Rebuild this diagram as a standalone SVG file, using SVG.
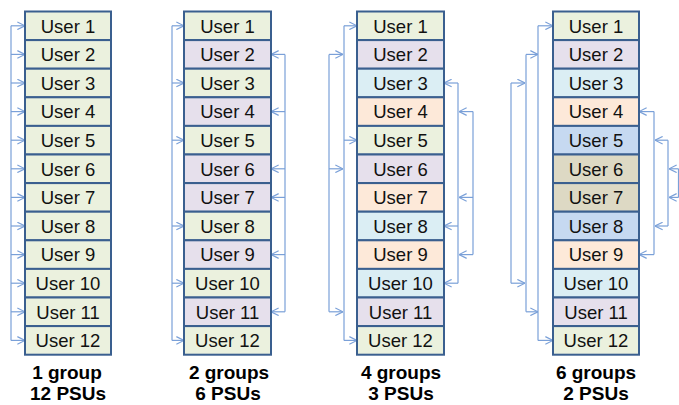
<svg xmlns="http://www.w3.org/2000/svg" width="679" height="405" viewBox="0 0 679 405">
<defs>
<marker id="ah" viewBox="0 0 10 10" refX="9.5" refY="5" markerWidth="9" markerHeight="9" markerUnits="userSpaceOnUse" orient="auto">
<path d="M1,0.8 L9.5,5 L1,9.2" fill="none" stroke="#7aa0d8" stroke-width="1.3"/>
</marker>
</defs>
<style>
rect{stroke:#3a5f8f;stroke-width:2}
.g{fill:#ebf1de}.p{fill:#e6e0ec}.b{fill:#dbeef4}.o{fill:#fde9d9}.m{fill:#c6d9f1}.k{fill:#ddd9c4}
text{font-family:"Liberation Sans",Arial,sans-serif;text-anchor:middle}
.u{font-size:18.5px;fill:#111}
.lb{font-size:19px;font-weight:bold;fill:#000}
#connectors line{stroke:#7aa0d8;stroke-width:1.2;fill:none}
#connectors .a{marker-end:url(#ah)}
</style>
<rect x="0" y="0" width="679" height="405" fill="#fff" style="stroke:none"/>
<g id="connectors">
<line x1="11" y1="25.8" x2="11" y2="340.4"/>
<line class="a" x1="11" y1="25.8" x2="25" y2="25.8"/>
<line class="a" x1="11" y1="54.4" x2="25" y2="54.4"/>
<line class="a" x1="11" y1="83" x2="25" y2="83"/>
<line class="a" x1="11" y1="111.6" x2="25" y2="111.6"/>
<line class="a" x1="11" y1="140.2" x2="25" y2="140.2"/>
<line class="a" x1="11" y1="168.8" x2="25" y2="168.8"/>
<line class="a" x1="11" y1="197.4" x2="25" y2="197.4"/>
<line class="a" x1="11" y1="226" x2="25" y2="226"/>
<line class="a" x1="11" y1="254.6" x2="25" y2="254.6"/>
<line class="a" x1="11" y1="283.2" x2="25" y2="283.2"/>
<line class="a" x1="11" y1="311.8" x2="25" y2="311.8"/>
<line class="a" x1="11" y1="340.4" x2="25" y2="340.4"/>
<line x1="172" y1="25.8" x2="172" y2="340.4"/>
<line class="a" x1="172" y1="25.8" x2="184" y2="25.8"/>
<line class="a" x1="172" y1="83" x2="184" y2="83"/>
<line class="a" x1="172" y1="140.2" x2="184" y2="140.2"/>
<line class="a" x1="172" y1="226" x2="184" y2="226"/>
<line class="a" x1="172" y1="283.2" x2="184" y2="283.2"/>
<line class="a" x1="172" y1="340.4" x2="184" y2="340.4"/>
<line x1="285" y1="54.4" x2="285" y2="311.8"/>
<line class="a" x1="285" y1="54.4" x2="271" y2="54.4"/>
<line class="a" x1="285" y1="111.6" x2="271" y2="111.6"/>
<line class="a" x1="285" y1="168.8" x2="271" y2="168.8"/>
<line class="a" x1="285" y1="197.4" x2="271" y2="197.4"/>
<line class="a" x1="285" y1="254.6" x2="271" y2="254.6"/>
<line class="a" x1="285" y1="311.8" x2="271" y2="311.8"/>
<line x1="344" y1="25.8" x2="344" y2="340.4"/>
<line class="a" x1="344" y1="25.8" x2="357" y2="25.8"/>
<line class="a" x1="344" y1="140.2" x2="357" y2="140.2"/>
<line class="a" x1="344" y1="340.4" x2="357" y2="340.4"/>
<line x1="329" y1="54.4" x2="329" y2="311.8"/>
<line class="a" x1="329" y1="54.4" x2="343" y2="54.4"/>
<line class="a" x1="329" y1="168.8" x2="343" y2="168.8"/>
<line class="a" x1="329" y1="311.8" x2="343" y2="311.8"/>
<line x1="458" y1="83" x2="458" y2="283.2"/>
<line class="a" x1="458" y1="83" x2="444" y2="83"/>
<line class="a" x1="458" y1="226" x2="444" y2="226"/>
<line class="a" x1="458" y1="283.2" x2="444" y2="283.2"/>
<line x1="473" y1="111.6" x2="473" y2="254.6"/>
<line class="a" x1="473" y1="111.6" x2="459" y2="111.6"/>
<line class="a" x1="473" y1="197.4" x2="459" y2="197.4"/>
<line class="a" x1="473" y1="254.6" x2="459" y2="254.6"/>
<line x1="538" y1="25.8" x2="538" y2="340.4"/>
<line class="a" x1="538" y1="25.8" x2="553" y2="25.8"/>
<line class="a" x1="538" y1="340.4" x2="553" y2="340.4"/>
<line x1="526" y1="54.4" x2="526" y2="311.8"/>
<line class="a" x1="526" y1="54.4" x2="538" y2="54.4"/>
<line class="a" x1="526" y1="311.8" x2="538" y2="311.8"/>
<line x1="511" y1="83" x2="511" y2="283.2"/>
<line class="a" x1="511" y1="83" x2="525" y2="83"/>
<line class="a" x1="511" y1="283.2" x2="525" y2="283.2"/>
<line x1="654" y1="111.6" x2="654" y2="254.6"/>
<line class="a" x1="654" y1="111.6" x2="639" y2="111.6"/>
<line class="a" x1="654" y1="254.6" x2="639" y2="254.6"/>
<line x1="668" y1="140.2" x2="668" y2="226"/>
<line class="a" x1="668" y1="140.2" x2="655" y2="140.2"/>
<line class="a" x1="668" y1="226" x2="655" y2="226"/>
<line x1="678.5" y1="168.8" x2="678.5" y2="197.4"/>
<line class="a" x1="678.5" y1="168.8" x2="669" y2="168.8"/>
<line class="a" x1="678.5" y1="197.4" x2="669" y2="197.4"/>
</g>
<g id="c1-u1"><rect class="g" x="25" y="11.5" width="86" height="28.6"/><text class="u" x="68" y="32.5">User 1</text></g>
<g id="c1-u2"><rect class="g" x="25" y="40.1" width="86" height="28.6"/><text class="u" x="68" y="61.1">User 2</text></g>
<g id="c1-u3"><rect class="g" x="25" y="68.7" width="86" height="28.6"/><text class="u" x="68" y="89.7">User 3</text></g>
<g id="c1-u4"><rect class="g" x="25" y="97.3" width="86" height="28.6"/><text class="u" x="68" y="118.3">User 4</text></g>
<g id="c1-u5"><rect class="g" x="25" y="125.9" width="86" height="28.6"/><text class="u" x="68" y="146.9">User 5</text></g>
<g id="c1-u6"><rect class="g" x="25" y="154.5" width="86" height="28.6"/><text class="u" x="68" y="175.5">User 6</text></g>
<g id="c1-u7"><rect class="g" x="25" y="183.1" width="86" height="28.6"/><text class="u" x="68" y="204.1">User 7</text></g>
<g id="c1-u8"><rect class="g" x="25" y="211.7" width="86" height="28.6"/><text class="u" x="68" y="232.7">User 8</text></g>
<g id="c1-u9"><rect class="g" x="25" y="240.3" width="86" height="28.6"/><text class="u" x="68" y="261.3">User 9</text></g>
<g id="c1-u10"><rect class="g" x="25" y="268.9" width="86" height="28.6"/><text class="u" x="68" y="289.9">User 10</text></g>
<g id="c1-u11"><rect class="g" x="25" y="297.5" width="86" height="28.6"/><text class="u" x="68" y="318.5">User 11</text></g>
<g id="c1-u12"><rect class="g" x="25" y="326.1" width="86" height="28.6"/><text class="u" x="68" y="347.1">User 12</text></g>
<g id="c2-u1"><rect class="g" x="184" y="11.5" width="87" height="28.6"/><text class="u" x="227.5" y="32.5">User 1</text></g>
<g id="c2-u2"><rect class="p" x="184" y="40.1" width="87" height="28.6"/><text class="u" x="227.5" y="61.1">User 2</text></g>
<g id="c2-u3"><rect class="g" x="184" y="68.7" width="87" height="28.6"/><text class="u" x="227.5" y="89.7">User 3</text></g>
<g id="c2-u4"><rect class="p" x="184" y="97.3" width="87" height="28.6"/><text class="u" x="227.5" y="118.3">User 4</text></g>
<g id="c2-u5"><rect class="g" x="184" y="125.9" width="87" height="28.6"/><text class="u" x="227.5" y="146.9">User 5</text></g>
<g id="c2-u6"><rect class="p" x="184" y="154.5" width="87" height="28.6"/><text class="u" x="227.5" y="175.5">User 6</text></g>
<g id="c2-u7"><rect class="p" x="184" y="183.1" width="87" height="28.6"/><text class="u" x="227.5" y="204.1">User 7</text></g>
<g id="c2-u8"><rect class="g" x="184" y="211.7" width="87" height="28.6"/><text class="u" x="227.5" y="232.7">User 8</text></g>
<g id="c2-u9"><rect class="p" x="184" y="240.3" width="87" height="28.6"/><text class="u" x="227.5" y="261.3">User 9</text></g>
<g id="c2-u10"><rect class="g" x="184" y="268.9" width="87" height="28.6"/><text class="u" x="227.5" y="289.9">User 10</text></g>
<g id="c2-u11"><rect class="p" x="184" y="297.5" width="87" height="28.6"/><text class="u" x="227.5" y="318.5">User 11</text></g>
<g id="c2-u12"><rect class="g" x="184" y="326.1" width="87" height="28.6"/><text class="u" x="227.5" y="347.1">User 12</text></g>
<g id="c3-u1"><rect class="g" x="357" y="11.5" width="87" height="28.6"/><text class="u" x="400.5" y="32.5">User 1</text></g>
<g id="c3-u2"><rect class="p" x="357" y="40.1" width="87" height="28.6"/><text class="u" x="400.5" y="61.1">User 2</text></g>
<g id="c3-u3"><rect class="b" x="357" y="68.7" width="87" height="28.6"/><text class="u" x="400.5" y="89.7">User 3</text></g>
<g id="c3-u4"><rect class="o" x="357" y="97.3" width="87" height="28.6"/><text class="u" x="400.5" y="118.3">User 4</text></g>
<g id="c3-u5"><rect class="g" x="357" y="125.9" width="87" height="28.6"/><text class="u" x="400.5" y="146.9">User 5</text></g>
<g id="c3-u6"><rect class="p" x="357" y="154.5" width="87" height="28.6"/><text class="u" x="400.5" y="175.5">User 6</text></g>
<g id="c3-u7"><rect class="o" x="357" y="183.1" width="87" height="28.6"/><text class="u" x="400.5" y="204.1">User 7</text></g>
<g id="c3-u8"><rect class="b" x="357" y="211.7" width="87" height="28.6"/><text class="u" x="400.5" y="232.7">User 8</text></g>
<g id="c3-u9"><rect class="o" x="357" y="240.3" width="87" height="28.6"/><text class="u" x="400.5" y="261.3">User 9</text></g>
<g id="c3-u10"><rect class="b" x="357" y="268.9" width="87" height="28.6"/><text class="u" x="400.5" y="289.9">User 10</text></g>
<g id="c3-u11"><rect class="p" x="357" y="297.5" width="87" height="28.6"/><text class="u" x="400.5" y="318.5">User 11</text></g>
<g id="c3-u12"><rect class="g" x="357" y="326.1" width="87" height="28.6"/><text class="u" x="400.5" y="347.1">User 12</text></g>
<g id="c4-u1"><rect class="g" x="553" y="11.5" width="86" height="28.6"/><text class="u" x="596" y="32.5">User 1</text></g>
<g id="c4-u2"><rect class="p" x="553" y="40.1" width="86" height="28.6"/><text class="u" x="596" y="61.1">User 2</text></g>
<g id="c4-u3"><rect class="b" x="553" y="68.7" width="86" height="28.6"/><text class="u" x="596" y="89.7">User 3</text></g>
<g id="c4-u4"><rect class="o" x="553" y="97.3" width="86" height="28.6"/><text class="u" x="596" y="118.3">User 4</text></g>
<g id="c4-u5"><rect class="m" x="553" y="125.9" width="86" height="28.6"/><text class="u" x="596" y="146.9">User 5</text></g>
<g id="c4-u6"><rect class="k" x="553" y="154.5" width="86" height="28.6"/><text class="u" x="596" y="175.5">User 6</text></g>
<g id="c4-u7"><rect class="k" x="553" y="183.1" width="86" height="28.6"/><text class="u" x="596" y="204.1">User 7</text></g>
<g id="c4-u8"><rect class="m" x="553" y="211.7" width="86" height="28.6"/><text class="u" x="596" y="232.7">User 8</text></g>
<g id="c4-u9"><rect class="o" x="553" y="240.3" width="86" height="28.6"/><text class="u" x="596" y="261.3">User 9</text></g>
<g id="c4-u10"><rect class="b" x="553" y="268.9" width="86" height="28.6"/><text class="u" x="596" y="289.9">User 10</text></g>
<g id="c4-u11"><rect class="p" x="553" y="297.5" width="86" height="28.6"/><text class="u" x="596" y="318.5">User 11</text></g>
<g id="c4-u12"><rect class="g" x="553" y="326.1" width="86" height="28.6"/><text class="u" x="596" y="347.1">User 12</text></g>
<g id="label-1"><text class="lb" x="67" y="379">1 group</text><text class="lb" x="68" y="400">12 PSUs</text></g>
<g id="label-2"><text class="lb" x="229" y="379">2 groups</text><text class="lb" x="228" y="400">6 PSUs</text></g>
<g id="label-3"><text class="lb" x="401" y="379">4 groups</text><text class="lb" x="401" y="400">3 PSUs</text></g>
<g id="label-4"><text class="lb" x="596" y="379">6 groups</text><text class="lb" x="596" y="400">2 PSUs</text></g>
</svg>
